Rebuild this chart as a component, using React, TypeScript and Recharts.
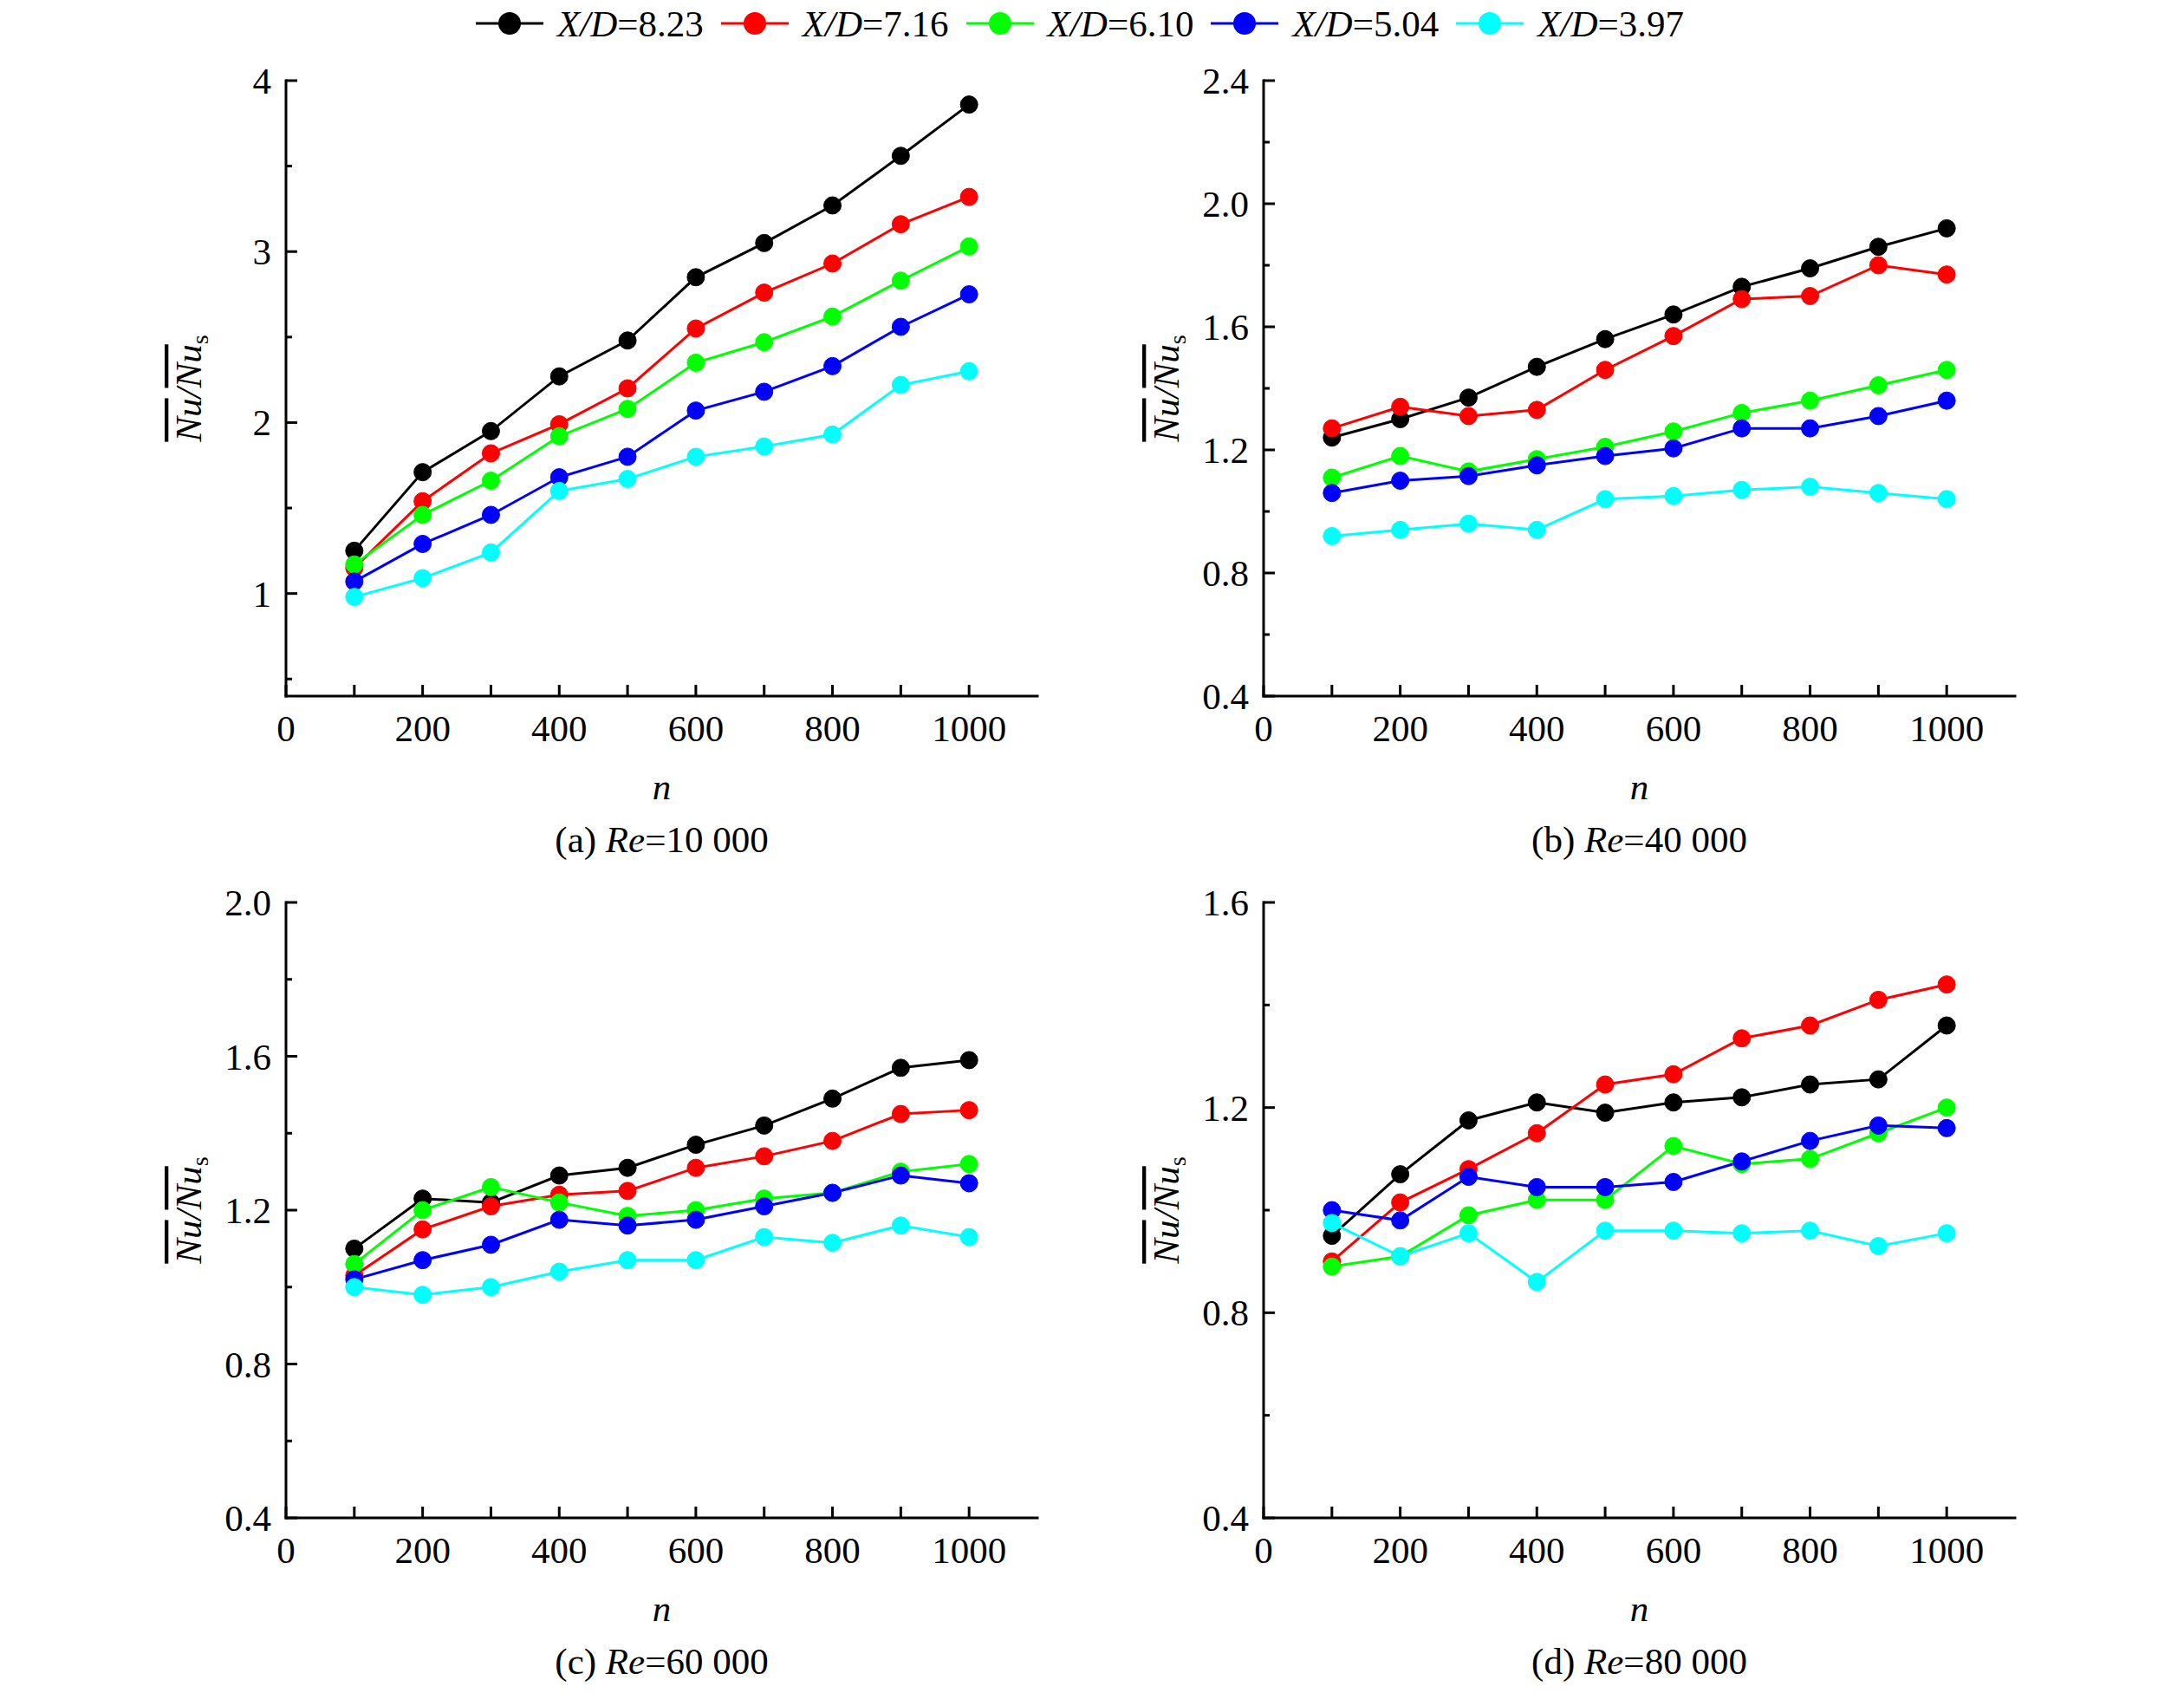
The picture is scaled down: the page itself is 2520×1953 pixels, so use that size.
import React from "react"
import { LineChart, Line, XAxis, YAxis } from "recharts"

const FONT = "'Liberation Serif', 'Times New Roman', serif"

const nValues = [100, 200, 300, 400, 500, 600, 700, 800, 900, 1000]
const xdLabels = ["8.23", "7.16", "6.10", "5.04", "3.97"]
const seriesColors = ["#000000", "#ff0000", "#00ff00", "#0000ff", "#00ffff"]

const xTicks = [0, 100, 200, 300, 400, 500, 600, 700, 800, 900, 1000]
const xMajor = [0, 200, 400, 600, 800, 1000]

// one row per X/D, in legend order
const re10000 = [
  [1.25, 1.71, 1.95, 2.27, 2.48, 2.85, 3.05, 3.27, 3.56, 3.86],
  [1.15, 1.54, 1.82, 1.99, 2.2, 2.55, 2.76, 2.93, 3.16, 3.32],
  [1.17, 1.46, 1.66, 1.92, 2.08, 2.35, 2.47, 2.62, 2.83, 3.03],
  [1.07, 1.29, 1.46, 1.68, 1.8, 2.07, 2.18, 2.33, 2.56, 2.75],
  [0.98, 1.09, 1.24, 1.6, 1.67, 1.8, 1.86, 1.93, 2.22, 2.3],
]
const re40000 = [
  [1.24, 1.3, 1.37, 1.47, 1.56, 1.64, 1.73, 1.79, 1.86, 1.92],
  [1.27, 1.34, 1.31, 1.33, 1.46, 1.57, 1.69, 1.7, 1.8, 1.77],
  [1.11, 1.18, 1.13, 1.17, 1.21, 1.26, 1.32, 1.36, 1.41, 1.46],
  [1.06, 1.1, 1.115, 1.15, 1.18, 1.205, 1.27, 1.27, 1.31, 1.36],
  [0.92, 0.94, 0.96, 0.94, 1.04, 1.05, 1.07, 1.08, 1.06, 1.04],
]
const re60000 = [
  [1.1, 1.23, 1.22, 1.29, 1.31, 1.37, 1.42, 1.49, 1.57, 1.59],
  [1.03, 1.15, 1.21, 1.24, 1.25, 1.31, 1.34, 1.38, 1.45, 1.46],
  [1.06, 1.2, 1.26, 1.22, 1.185, 1.2, 1.23, 1.245, 1.3, 1.32],
  [1.02, 1.07, 1.11, 1.175, 1.16, 1.175, 1.21, 1.245, 1.29, 1.27],
  [1.0, 0.98, 1.0, 1.04, 1.07, 1.07, 1.13, 1.115, 1.16, 1.13],
]
const re80000 = [
  [0.95, 1.07, 1.175, 1.21, 1.19, 1.21, 1.22, 1.245, 1.255, 1.36],
  [0.9, 1.015, 1.08, 1.15, 1.245, 1.265, 1.335, 1.36, 1.41, 1.44],
  [0.89, 0.91, 0.99, 1.02, 1.02, 1.125, 1.09, 1.1, 1.15, 1.2],
  [1.0, 0.98, 1.065, 1.045, 1.045, 1.055, 1.095, 1.135, 1.165, 1.16],
  [0.975, 0.91, 0.955, 0.86, 0.96, 0.96, 0.955, 0.96, 0.93, 0.955],
]

const yMajorA = [1, 2, 3, 4]
const yMinorA = [0.5, 1.5, 2.5, 3.5]
const yMajorB = [0.4, 0.8, 1.2, 1.6, 2.0, 2.4]
const yMinorB = [0.6, 1.0, 1.4, 1.8, 2.2]
const yMajorC = [0.4, 0.8, 1.2, 1.6, 2.0]
const yMinorC = [0.6, 1.0, 1.4, 1.8]
const yMajorD = [0.4, 0.8, 1.2, 1.6]
const yMinorD = [0.6, 1.0, 1.4]

const PLOT_W = 867
const PLOT_H = 710
const AXIS_L = 170
const MT = 30
const MR = 30
const XAXIS_H = 200
const axisLine = { stroke: "#000", strokeWidth: 3, strokeLinecap: "square" as const }

function Panel({ left, top, values, yDomain, yMajor, yMinor, decimals, tag, reText }: any) {
  const rows = nValues.map((n, i) => {
    const r: any = { n }
    values.forEach((s: number[], k: number) => (r["s" + k] = s[i]))
    return r
  })
  const yTicks = [...yMajor, ...yMinor].sort((a, b) => a - b)
  const isMajorY = (v: number) => yMajor.some((m: number) => Math.abs(m - v) < 1e-6)

  const bottomTick = (p: any) => (
    <g>
      <line x1={p.x} x2={p.x} y1={p.y} y2={p.y - 13} stroke="#000" strokeWidth={3} />
      {xMajor.includes(p.payload.value) && (
        <text x={p.x} y={p.y + 52} textAnchor="middle" fontFamily={FONT} fontSize={43} fill="#000">
          {p.payload.value}
        </text>
      )}
    </g>
  )
  const topTick = (p: any) => (
    <line x1={p.x} x2={p.x} y1={p.y} y2={p.y + 13} stroke="#000" strokeWidth={3} />
  )
  const leftTick = (p: any) => {
    const major = isMajorY(p.payload.value)
    return (
      <g>
        <line x1={p.x} x2={p.x + (major ? 13 : 7)} y1={p.y} y2={p.y} stroke="#000" strokeWidth={3} />
        {major && (
          <text x={p.x - 17} y={p.y + 15} textAnchor="end" fontFamily={FONT} fontSize={43} fill="#000">
            {p.payload.value.toFixed(decimals)}
          </text>
        )}
      </g>
    )
  }
  const rightTick = (p: any) => {
    const major = isMajorY(p.payload.value)
    return <line x1={p.x} x2={p.x - (major ? 13 : 7)} y1={p.y} y2={p.y} stroke="#000" strokeWidth={3} />
  }
  const yLabel = (p: any) => {
    const vb = p.viewBox
    const cx = vb.x + vb.width - 98
    const cy = vb.y + vb.height / 2
    return (
      <text
        x={cx}
        y={cy}
        transform={`rotate(-90 ${cx} ${cy})`}
        textAnchor="middle"
        fontFamily={FONT}
        fontSize={43}
        fontStyle="italic"
        fill="#000"
      >
        <tspan style={{ textDecoration: "overline" }}>Nu</tspan>
        <tspan>/</tspan>
        <tspan style={{ textDecoration: "overline" }}>Nu</tspan>
        <tspan fontSize={28} fontStyle="normal" dy={8}>s</tspan>
      </text>
    )
  }
  const xLabel = (p: any) => {
    const vb = p.viewBox
    const cx = vb.x + vb.width / 2
    return (
      <g fontFamily={FONT} fontSize={43} fill="#000">
        <text x={cx} y={vb.y + 119} textAnchor="middle" fontStyle="italic">n</text>
        <text x={cx} y={vb.y + 180} textAnchor="middle">
          {tag} <tspan fontStyle="italic">Re</tspan>={reText}
        </text>
      </g>
    )
  }

  return (
    <div style={{ position: "absolute", left: left - AXIS_L, top: top - MT }}>
      <LineChart
        width={AXIS_L + PLOT_W + MR}
        height={MT + PLOT_H + XAXIS_H}
        data={rows}
        margin={{ top: MT, right: MR, bottom: 0, left: 0 }}
      >
        <XAxis
          type="number"
          dataKey="n"
          domain={[0, 1100]}
          ticks={xTicks}
          interval={0}
          height={XAXIS_H}
          tickSize={0}
          tickMargin={0}
          tickLine={false}
          axisLine={axisLine}
          tick={bottomTick}
          label={xLabel}
        />
        <XAxis
          xAxisId="top"
          orientation="top"
          type="number"
          domain={[0, 1100]}
          ticks={xTicks}
          interval={0}
          height={0}
          tickSize={0}
          tickMargin={0}
          tickLine={false}
          axisLine={axisLine}
          tick={topTick}
        />
        <YAxis
          type="number"
          domain={yDomain}
          ticks={yTicks}
          interval={0}
          width={AXIS_L}
          tickSize={0}
          tickMargin={0}
          tickLine={false}
          axisLine={axisLine}
          tick={leftTick}
          label={yLabel}
        />
        <YAxis
          yAxisId="right"
          orientation="right"
          type="number"
          domain={yDomain}
          ticks={yTicks}
          interval={0}
          width={0}
          tickSize={0}
          tickMargin={0}
          tickLine={false}
          axisLine={axisLine}
          tick={rightTick}
        />
        {values.map((_: number[], k: number) => (
          <Line
            key={k}
            type="linear"
            dataKey={"s" + k}
            stroke={seriesColors[k]}
            strokeWidth={3}
            dot={{ r: 10, fill: seriesColors[k], stroke: seriesColors[k], strokeWidth: 1 }}
            activeDot={false}
            isAnimationActive={false}
          />
        ))}
      </LineChart>
    </div>
  )
}

function Legend() {
  return (
    <div
      style={{
        position: "absolute",
        left: 549,
        top: 0,
        height: 54,
        display: "flex",
        alignItems: "center",
        fontFamily: FONT,
        fontSize: 43,
        color: "#000",
      }}
    >
      {xdLabels.map((lab, i) => (
        <div key={lab} style={{ display: "flex", alignItems: "center", marginRight: i < 4 ? 20 : 0 }}>
          <svg width={78} height={30}>
            <line x1={0} x2={78} y1={15} y2={15} stroke={seriesColors[i]} strokeWidth={3} />
            <circle cx={39} cy={15} r={13} fill={seriesColors[i]} />
          </svg>
          <span style={{ marginLeft: 16, lineHeight: 1, whiteSpace: "nowrap" }}>
            <i>X/D</i>={lab}
          </span>
        </div>
      ))}
    </div>
  )
}

export default function App() {
  return (
    <div style={{ position: "relative", width: 2520, height: 1953, background: "#fff", overflow: "hidden" }}>
      <style>{"body{margin:0}"}</style>
      <Legend />
      <Panel left={330} top={93} values={re10000} yDomain={[0.4, 4]} yMajor={yMajorA} yMinor={yMinorA} decimals={0} tag="(a)" reText="10 000" />
      <Panel left={1458} top={93} values={re40000} yDomain={[0.4, 2.4]} yMajor={yMajorB} yMinor={yMinorB} decimals={1} tag="(b)" reText="40 000" />
      <Panel left={330} top={1041} values={re60000} yDomain={[0.4, 2.0]} yMajor={yMajorC} yMinor={yMinorC} decimals={1} tag="(c)" reText="60 000" />
      <Panel left={1458} top={1041} values={re80000} yDomain={[0.4, 1.6]} yMajor={yMajorD} yMinor={yMinorD} decimals={1} tag="(d)" reText="80 000" />
    </div>
  )
}
